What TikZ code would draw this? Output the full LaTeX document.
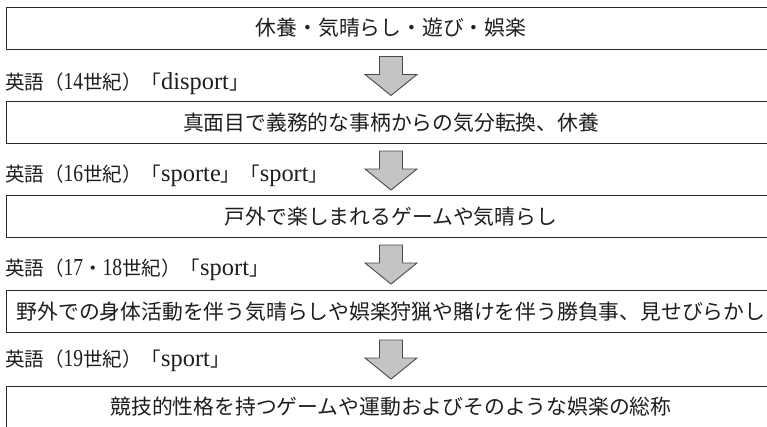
\documentclass[tikz,border=0pt]{standalone}
\usepackage{fontspec}
\setmainfont{Liberation Serif}
\newfontfamily\jp{Noto Sans CJK JP}
\newfontfamily\latn{Liberation Serif}
\newfontfamily\dig[FakeStretch=0.8]{Liberation Serif}
\definecolor{ink}{HTML}{1E1E1E}
\definecolor{frame}{HTML}{2A2A2A}
\definecolor{arrfill}{HTML}{C4C4C4}
\definecolor{arrline}{HTML}{4A4A4A}
\tikzset{
  box/.style={draw=frame, line width=1pt, minimum width=770pt, minimum height=42pt,
    inner sep=0pt, text=ink, font=\jp\fontsize{20.8}{24}\selectfont},
  lbl/.style={anchor=base west, inner sep=0pt, text=ink, font=\jp\fontsize{19.5}{23}\selectfont},
  blockarrow/.pic={\draw[fill=arrfill, draw=arrline, line width=0.9pt, line join=miter]
    (-11.5,0) -- (11.5,0) -- (11.5,18) -- (26,18) -- (0,39) -- (-26,18) -- (-11.5,18) -- cycle;}
}
\newcommand\lat[1]{{\latn\fontsize{24.4}{26}\selectfont #1}}
\newcommand\num[1]{{\dig\fontsize{24.4}{26}\selectfont #1}}
\begin{document}
\begin{tikzpicture}[x=1pt,y=-1pt]
\useasboundingbox (0,0) rectangle (767,426);
\clip (0,0) rectangle (767,426);
\fill[white] (0,0) rectangle (767,426);
\node[box] (b1) at (391,28) {休養・気晴らし・遊び・娯楽};
\node[box] (b2) at (391,122.5) {真面目で義務的な事柄からの気分転換、休養};
\node[box] (b3) at (391,216.5) {戸外で楽しまれるゲームや気晴らし};
\node[box] (b4) at (391,311.5) {野外での身体活動を伴う気晴らしや娯楽狩猟や賭けを伴う勝負事、見せびらかし};
\node[box] (b5) at (391,407) {競技的性格を持つゲームや運動およびそのような娯楽の総称};
\node[lbl] (l1) at (5,89) {英語（\num{14}世紀）「\lat{disport}」};
\node[lbl] (l2) at (5,181) {英語（\num{16}世紀）「\lat{sporte}」「\lat{sport}」};
\node[lbl] (l3) at (5,275) {英語（\num{17}・\num{18}世紀）「\lat{sport}」};
\node[lbl] (l4) at (5,366) {英語（\num{19}世紀）「\lat{sport}」};
\path ([yshift=-7pt]b1.south) pic {blockarrow};
\path ([yshift=-7pt]b2.south) pic {blockarrow};
\path ([yshift=-7pt]b3.south) pic {blockarrow};
\path ([yshift=-7pt]b4.south) pic {blockarrow};
\end{tikzpicture}
\end{document}
